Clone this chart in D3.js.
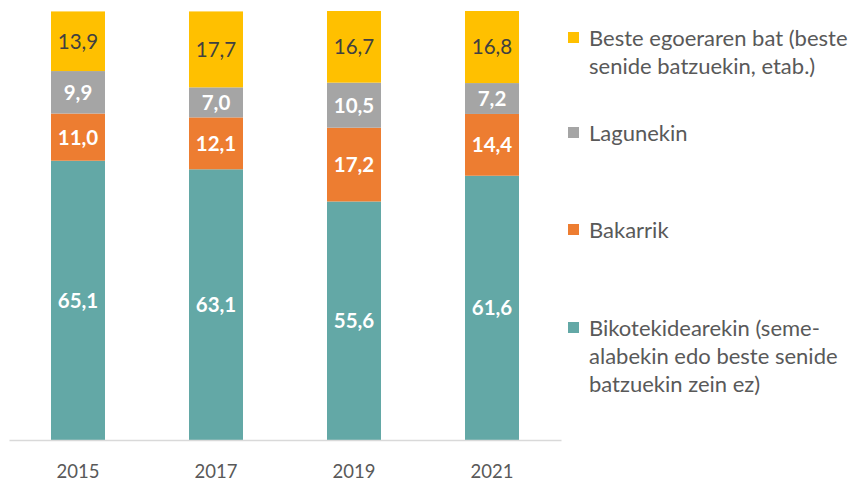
<!DOCTYPE html>
<meta charset="utf-8">
<title>Stacked bars</title>
<style>
  body { margin: 0; background: #fff; }
  text { font-family: Lato, "Open Sans", sans-serif; }
</style>
<body>
<script src="https://cdn.jsdelivr.net/npm/d3@7"></script>
<script>
  // data
  var years = ["2015", "2017", "2019", "2021"];
  var bikotekide = [65.1, 63.1, 55.6, 61.6];
  var bakarrik = [11.0, 12.1, 17.2, 14.4];
  var lagunekin = [9.9, 7.0, 10.5, 7.2];
  var beste = [13.9, 17.7, 16.7, 16.8];

  var seriesNames = [
    ["Bikotekidearekin (seme-", "alabekin edo beste senide", "batzuekin zein ez)"],
    ["Bakarrik"],
    ["Lagunekin"],
    ["Beste egoeraren bat (beste", "senide batzuekin, etab.)"]
  ];
  var colors = ["#63a8a6", "#ed7d31", "#a5a5a5", "#ffc000"];
  var labelColors = ["#fff", "#fff", "#fff", "#404040"];

  var keys = ["k0", "k1", "k2", "k3"];
  var rows = years.map(function(y, i) {
    return {year: y, k0: bikotekide[i], k1: bakarrik[i], k2: lagunekin[i], k3: beste[i]};
  });

  var width = 850, height = 485;

  var svg = d3.select("body").append("svg")
    .attr("width", width)
    .attr("height", height);

  var x = d3.scaleBand()
    .domain(years)
    .range([9, 561])
    .paddingInner(84 / 138)
    .paddingOuter(42 / 138);

  var y = d3.scaleLinear()
    .domain([0, 100])
    .range([440, 11]);

  var stack = d3.stack().keys(keys)(rows);

  // bars
  var layer = svg.append("g").selectAll("g")
    .data(stack)
    .enter().append("g")
    .attr("fill", function(d, i) { return colors[i]; });

  layer.selectAll("rect")
    .data(function(d) { return d; })
    .enter().append("rect")
    .attr("x", function(d) { return x(d.data.year); })
    .attr("y", function(d) { return y(d[1]); })
    .attr("width", x.bandwidth())
    .attr("height", function(d) { return y(d[0]) - y(d[1]); });

  // value labels
  layer.each(function(s, i) {
    d3.select(this).selectAll("text")
      .data(s)
      .enter().append("text")
      .attr("x", function(d) { return x(d.data.year) + x.bandwidth() / 2; })
      .attr("y", function(d) { return (y(d[0]) + y(d[1])) / 2; })
      .attr("dy", "0.36em")
      .attr("text-anchor", "middle")
      .attr("fill", labelColors[i])
      .attr("font-size", 20.5)
      .attr("font-weight", i < 3 ? "bold" : "normal")
      .text(function(d) { return d3.format(".1f")(d[1] - d[0]).replace(".", ","); });
  });

  // x axis
  var xAxis = svg.append("g")
    .attr("transform", "translate(0,440)")
    .call(d3.axisBottom(x).tickSize(0));
  xAxis.select(".domain").attr("stroke", "#d9d9d9").attr("stroke-width", 1.5);
  xAxis.selectAll("text")
    .attr("y", 38)
    .attr("dy", 0)
    .attr("font-size", 18.5)
    .attr("fill", "#595959")
    .style("font-family", "Lato, sans-serif");

  // legend
  var legendY = [46, 141, 238, 336];
  var legend = svg.append("g").selectAll("g")
    .data([3, 2, 1, 0])
    .enter().append("g")
    .attr("transform", function(d, i) { return "translate(568," + legendY[i] + ")"; });

  legend.append("rect")
    .attr("x", 0)
    .attr("y", -14)
    .attr("width", 11)
    .attr("height", 11)
    .attr("fill", function(d) { return colors[d]; });

  legend.append("text")
    .attr("fill", "#595959")
    .attr("font-size", 22)
    .selectAll("tspan")
    .data(function(d) { return seriesNames[d]; })
    .enter().append("tspan")
    .attr("x", 21)
    .attr("y", function(d, i) { return i * 28; })
    .text(function(d) { return d; });
</script>
</body>
